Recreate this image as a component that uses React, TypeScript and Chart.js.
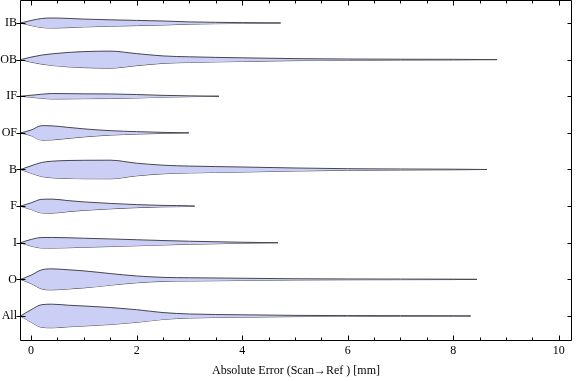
import { useEffect, useRef } from 'react';
import { Chart, registerables } from 'chart.js';

Chart.register(...registerables);

// Categories, top to bottom
const categories = ['IB', 'OB', 'IF', 'OF', 'B', 'F', 'I', 'O', 'All'];

// Shared grid of error values (mm) at which the density half-widths were read
const gridX = [-0.2, 0, 0.2, 0.4, 0.7, 1.0, 1.5, 2.0, 2.5, 3.0, 4.0, 5.0, 6.0, 7.0, 8.0];

// Largest error of each category (end of each violin's tail)
const maxError = [4.73, 8.83, 3.56, 2.99, 8.64, 3.1, 4.68, 8.45, 8.33];

// Density half-widths (relative units) along gridX
const densIB = [0, 2.5, 4.5, 5.0, 4.6, 3.9, 3.2, 2.6, 2.0, 1.1, 0.4];
const densOB = [0, 2.5, 4.5, 5.8, 7.2, 8.0, 8.5, 6.0, 3.7, 2.8, 1.8, 1.0, 0.6, 0.4, 0.3];
const densIF = [0, 1.0, 2.0, 2.7, 2.6, 2.4, 2.3, 1.7, 0.9, 0.4];
const densOF = [0, 2.8, 7.2, 7.0, 5.5, 4.0, 2.2, 1.2, 0.5];
const densB = [0, 3.7, 7.0, 8.3, 9.0, 9.2, 9.3, 6.3, 4.3, 3.4, 2.5, 1.5, 0.8, 0.5, 0.3];
const densF = [0, 3.3, 6.8, 7.0, 5.5, 4.2, 2.7, 1.5, 0.7, 0.3];
const densI = [0, 3.3, 5.2, 5.3, 5.0, 4.5, 3.8, 3.0, 2.2, 1.5, 0.5];
const densO = [0, 4.2, 9.5, 10.5, 9.6, 8.5, 5.8, 3.4, 2.0, 1.6, 1.1, 0.6, 0.4, 0.3, 0.2];
const densAll = [0, 6.2, 11.3, 11.8, 10.8, 10.0, 8.5, 6.3, 3.4, 2.0, 1.2, 0.6, 0.4, 0.3, 0.2];

const densities = [densIB, densOB, densIF, densOF, densB, densF, densI, densO, densAll];

const xTicks = [0, 2, 4, 6, 8, 10];
const xMinorStep = 0.5;

const widthScale = 0.0273; // density unit -> category units
const FILL = 'rgb(203, 207, 245)';
const STROKE = 'rgb(70, 70, 80)';
const FONT = "'Liberation Serif', 'Times New Roman', serif";

const framePlugin = {
  id: 'frameTicks',
  afterDraw(chart: any) {
    const { ctx, chartArea: a, scales } = chart;
    const x = scales.x;
    const y = scales.y;
    const L = Math.round(a.left) + 0.5;
    const R = Math.round(a.right) - 0.5;
    const T = Math.round(a.top) + 0.5;
    const B = Math.round(a.bottom) - 0.5;
    ctx.save();
    ctx.strokeStyle = '#000';
    ctx.lineWidth = 1;
    ctx.beginPath();
    ctx.moveTo(L, T);
    ctx.lineTo(R, T);
    ctx.lineTo(R, B);
    ctx.lineTo(L, B);
    ctx.closePath();
    ctx.stroke();
    ctx.beginPath();
    const xmax = xTicks[xTicks.length - 1];
    for (let v = xTicks[0]; v <= xmax + 1e-9; v += xMinorStep) {
      const px = Math.round(x.getPixelForValue(v)) + 0.5;
      const major = xTicks.some((t) => Math.abs(t - v) < 1e-9);
      const len = major ? 5 : 3;
      ctx.moveTo(px, B);
      ctx.lineTo(px, B - len);
      ctx.moveTo(px, T);
      ctx.lineTo(px, T + len);
    }
    categories.forEach((_, i) => {
      const py = Math.round(y.getPixelForValue(i)) + 0.5;
      ctx.moveTo(L - 4, py);
      ctx.lineTo(L + 5, py);
      ctx.moveTo(R, py);
      ctx.lineTo(R - 4, py);
    });
    ctx.stroke();
    ctx.restore();
  },
};

export default function App() {
  const ref = useRef<HTMLCanvasElement | null>(null);

  useEffect(() => {
    const canvas = ref.current;
    if (!canvas) return;
    const datasets: any[] = [];
    densities.forEach((dens, i) => {
      const pts: { x: number; w: number }[] = [];
      dens.forEach((w, j) => {
        if (gridX[j] < maxError[i]) pts.push({ x: gridX[j], w });
      });
      pts.push({ x: maxError[i], w: 0 });
      const common = {
        borderColor: STROKE,
        borderWidth: 1,
        pointRadius: 0,
        cubicInterpolationMode: 'monotone',
      };
      datasets.push({
        ...common,
        label: categories[i] + ' upper',
        data: pts.map((p) => ({ x: p.x, y: i - p.w * widthScale })),
        fill: '+1',
        backgroundColor: FILL,
      });
      datasets.push({
        ...common,
        label: categories[i] + ' lower',
        data: pts.map((p) => ({ x: p.x, y: i + p.w * widthScale })),
        fill: false,
        backgroundColor: FILL,
      });
    });

    const chart = new Chart(canvas, {
      type: 'line',
      data: { datasets },
      plugins: [framePlugin],
      options: {
        animation: false,
        responsive: false,
        layout: { padding: { top: 0, right: 4, left: 0, bottom: 0 } },
        plugins: { legend: { display: false }, tooltip: { enabled: false } },
        scales: {
          x: {
            type: 'linear',
            min: -0.21,
            max: 10.25,
            afterBuildTicks: (s: any) => {
              s.ticks = xTicks.map((v) => ({ value: v }));
            },
            afterFit: (s: any) => {
              s.height = 40;
              s.paddingLeft = 0;
              s.paddingRight = 0;
            },
            grid: { display: false, drawTicks: false },
            border: { display: false },
            ticks: {
              color: '#000',
              padding: 3,
              maxRotation: 0,
              font: { family: FONT, size: 12 },
            },
            title: {
              display: true,
              text: 'Absolute Error (Scan\u2192Ref ) [mm]',
              color: '#000',
              font: { family: FONT, size: 12 },
              padding: { top: 4, bottom: 3 },
            },
          },
          y: {
            type: 'linear',
            reverse: true,
            min: -0.628,
            max: 8.683,
            afterBuildTicks: (s: any) => {
              s.ticks = categories.map((_, i) => ({ value: i }));
            },
            afterFit: (s: any) => {
              s.width = 20;
              s.paddingTop = 0;
              s.paddingBottom = 0;
            },
            grid: { display: false, drawTicks: false },
            border: { display: false },
            ticks: {
              color: '#000',
              padding: 3,
              font: { family: FONT, size: 12 },
              callback: (v: any) => categories[v as number] ?? '',
            },
          },
        },
      },
    } as any);
    return () => chart.destroy();
  }, []);

  return (
    <div style={{ position: 'fixed', left: 0, top: 0, width: 576, height: 381, background: '#fff' }}>
      <canvas ref={ref} width={576} height={381} style={{ display: 'block' }} />
    </div>
  );
}
